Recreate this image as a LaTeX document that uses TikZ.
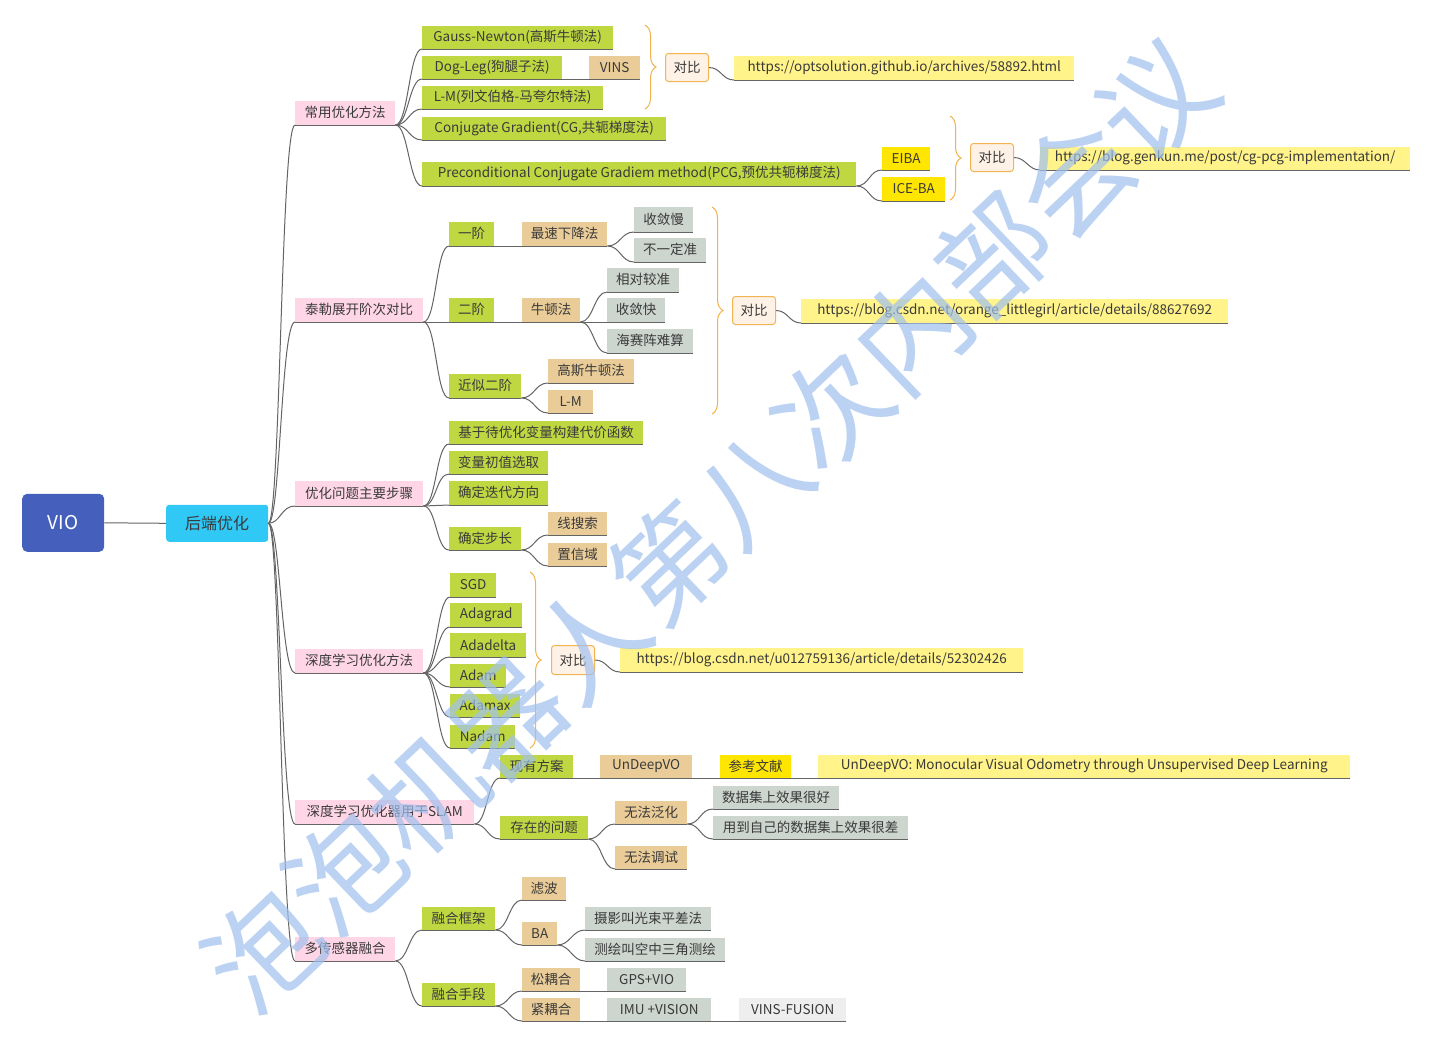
\documentclass[tikz,border=0pt]{standalone}
\usepackage{fontspec}
\setmainfont{Noto Sans CJK SC}
\usetikzlibrary{decorations.pathreplacing}
\definecolor{cgreen}{RGB}{191,216,66}
\definecolor{ctan}{RGB}{234,204,153}
\definecolor{cgray}{RGB}{205,213,207}
\definecolor{cpink}{RGB}{255,214,230}
\definecolor{cyel}{RGB}{255,230,0}
\definecolor{clyel}{RGB}{255,243,138}
\definecolor{clgray}{RGB}{238,238,238}
\definecolor{ccmpf}{RGB}{254,241,230}
\definecolor{ccmpd}{RGB}{243,181,82}
\definecolor{cbrace}{RGB}{241,179,77}
\definecolor{cline}{RGB}{100,100,100}
\definecolor{ctxt}{RGB}{58,58,58}
\definecolor{cvio}{RGB}{68,96,188}
\definecolor{chd}{RGB}{48,200,245}
\definecolor{cwm}{RGB}{160,192,238}
\newcommand\myfs{\fontsize{13.5}{16}\selectfont}
\tikzset{
 boxbase/.style={anchor=south west, inner sep=0pt, font=\myfs, text=ctxt},
 pinkbox/.style={boxbase, fill=cpink},
 greenbox/.style={boxbase, fill=cgreen},
 tanbox/.style={boxbase, fill=ctan},
 graybox/.style={boxbase, fill=cgray},
 yelbox/.style={boxbase, fill=cyel},
 lyelbox/.style={boxbase, fill=clyel},
 lgraybox/.style={boxbase, fill=clgray},
 cmpbox/.style={boxbase, fill=ccmpf, draw=ccmpd, line width=1pt, rounded corners=3pt},
 conline/.style={draw=cline, line width=1pt},
 bracestyle/.style={draw=cbrace, line width=1pt, decorate, decoration={brace, amplitude=11pt}},
}
% style, name, x1, x2, ytop, ybottom, text
\newcommand\mybox[7]{\node[#1, minimum width={#4-#3}, minimum height={#6-#5}] (#2) at (#3,#6) {#7};
  \draw[conline] (#2.south west) -- (#2.south east);}
\newcommand\mycmp[5]{\node[cmpbox, minimum width={#3-#2}, minimum height={#5-#4}] (#1) at (#2,#5) {对比};}
\newcommand\myconn[2]{\draw[conline] (#1.south east) .. controls +(13,0) and +(-13,0) .. (#2.south west);}
\newcommand\mycmpconn[2]{\draw[conline] (#1.east) .. controls +(12,0) and +(-12,0) .. (#2.south west);}
\begin{document}
\begin{tikzpicture}[x=1pt,y=-1pt]
\useasboundingbox (0,0) rectangle (1432,1044);
\fill[white] (0,0) rectangle (1432,1044);

% root and central topic
\node[anchor=south west, inner sep=0pt, minimum width=82, minimum height=58, fill=cvio, rounded corners=5pt, text=white, font=\fontsize{19}{20}\selectfont] (vio) at (22,552) {VIO};
\node[anchor=south west, inner sep=0pt, minimum width=102, minimum height=37, fill=chd, rounded corners=3pt, text=ctxt, font=\fontsize{16}{18}\selectfont] (hd) at (166,542) {后端优化};
\draw[conline] (vio.east) -- (hd.west);

% main branches
\mybox{pinkbox}{p1}{295}{395}{101}{125}{常用优化方法}
\mybox{pinkbox}{p2}{295}{423}{298}{322}{泰勒展开阶次对比}
\mybox{pinkbox}{p3}{295}{423}{481}{506}{优化问题主要步骤}
\mybox{pinkbox}{p4}{295}{423}{649}{673}{深度学习优化方法}
\mybox{pinkbox}{p5}{295}{474}{800}{824}{深度学习优化器用于SLAM}
\mybox{pinkbox}{p6}{295}{395}{937}{961}{多传感器融合}
\foreach \p in {p1,p2,p3,p4,p5,p6}
  {\draw[conline] (hd.east) .. controls +(12,0) and +(-14,0) .. (\p.south west);}

% branch 1
\mybox{greenbox}{a1}{422}{613}{26}{49}{Gauss-Newton(高斯牛顿法)}
\mybox{greenbox}{a2}{422}{562}{56}{79}{Dog-Leg(狗腿子法)}
\mybox{tanbox}{a2v}{589}{640}{56}{79}{VINS}
\mybox{greenbox}{a3}{422}{603}{86}{109}{L-M(列文伯格-马夸尔特法)}
\mybox{greenbox}{a4}{422}{666}{117}{140}{Conjugate Gradient(CG,共轭梯度法)}
\mybox{greenbox}{a5}{422}{856}{162}{186}{Preconditional Conjugate Gradiem method(PCG,预优共轭梯度法)}
\mybox{yelbox}{a5a}{882}{930}{147}{170}{EIBA}
\mybox{yelbox}{a5b}{882}{945}{177}{201}{ICE-BA}
\mycmp{db1}{665}{708}{54}{82}
\mybox{lyelbox}{u1}{734}{1074}{56}{80}{https://optsolution.github.io/archives/58892.html}
\mycmp{db2}{970}{1013}{144}{172}
\mybox{lyelbox}{u2}{1040}{1410}{147}{170}{https://blog.genkun.me/post/cg-pcg-implementation/}
\foreach \c in {a1,a2,a3,a4,a5} {\myconn{p1}{\c}}
\myconn{a2}{a2v}
\myconn{a5}{a5a}
\myconn{a5}{a5b}
\mycmpconn{db1}{u1}
\mycmpconn{db2}{u2}
\coordinate (br1t) at (645,25);
\coordinate (br1b) at (645,109);
\draw[bracestyle] (br1t) -- (br1b);
\coordinate (br2t) at (950,116);
\coordinate (br2b) at (950,200);
\draw[bracestyle] (br2t) -- (br2b);

% branch 2
\mybox{greenbox}{b1}{449}{494}{222}{246}{一阶}
\mybox{tanbox}{b1a}{522}{607}{222}{246}{最速下降法}
\mybox{graybox}{b1a1}{634}{693}{207}{232}{收敛慢}
\mybox{graybox}{b1a2}{634}{706}{238}{262}{不一定准}
\mybox{greenbox}{b2}{449}{494}{298}{322}{二阶}
\mybox{tanbox}{b2a}{522}{580}{298}{322}{牛顿法}
\mybox{graybox}{b2a1}{607}{679}{268}{292}{相对较准}
\mybox{graybox}{b2a2}{607}{665}{298}{322}{收敛快}
\mybox{graybox}{b2a3}{607}{693}{329}{353}{海赛阵难算}
\mybox{greenbox}{b3}{449}{521}{374}{398}{近似二阶}
\mybox{tanbox}{b3a}{548}{634}{359}{383}{高斯牛顿法}
\mybox{tanbox}{b3b}{548}{593}{390}{413}{L-M}
\mycmp{db3}{732}{775}{297}{325}
\mybox{lyelbox}{u3}{801}{1228}{299}{323}{https://blog.csdn.net/orange\_littlegirl/article/details/88627692}
\foreach \c in {b1,b2,b3} {\myconn{p2}{\c}}
\myconn{b1}{b1a}
\myconn{b1a}{b1a1}
\myconn{b1a}{b1a2}
\myconn{b2}{b2a}
\myconn{b2a}{b2a1}
\myconn{b2a}{b2a2}
\myconn{b2a}{b2a3}
\myconn{b3}{b3a}
\myconn{b3}{b3b}
\mycmpconn{db3}{u3}
\coordinate (br3t) at (712,207);
\coordinate (br3b) at (712,414);
\draw[bracestyle] (br3t) -- (br3b);

% branch 3
\mybox{greenbox}{c1}{449}{643}{421}{444}{基于待优化变量构建代价函数}
\mybox{greenbox}{c2}{449}{548}{451}{474}{变量初值选取}
\mybox{greenbox}{c3}{449}{548}{481}{505}{确定迭代方向}
\mybox{greenbox}{c4}{449}{521}{527}{550}{确定步长}
\mybox{tanbox}{c4a}{548}{607}{512}{535}{线搜索}
\mybox{tanbox}{c4b}{548}{607}{543}{566}{置信域}
\foreach \c in {c1,c2,c3,c4} {\myconn{p3}{\c}}
\myconn{c4}{c4a}
\myconn{c4}{c4b}

% branch 4
\mybox{greenbox}{d1}{450}{496}{573}{597}{SGD}
\mybox{greenbox}{d2}{450}{522}{603}{627}{Adagrad}
\mybox{greenbox}{d3}{450}{526}{633}{657}{Adadelta}
\mybox{greenbox}{d4}{450}{506}{664}{687}{Adam}
\mybox{greenbox}{d5}{450}{520}{694}{717}{Adamax}
\mybox{greenbox}{d6}{450}{515}{725}{748}{Nadam}
\mycmp{db4}{551}{594}{646}{675}
\mybox{lyelbox}{u4}{620}{1023}{648}{672}{https://blog.csdn.net/u012759136/article/details/52302426}
\foreach \c in {d1,d2,d3,d4,d5,d6} {\myconn{p4}{\c}}
\mycmpconn{db4}{u4}
\coordinate (br4t) at (530,572);
\coordinate (br4b) at (530,748);
\draw[bracestyle] (br4t) -- (br4b);

% branch 5
\mybox{greenbox}{e1}{500}{573}{755}{778}{现有方案}
\mybox{tanbox}{e1a}{600}{692}{755}{778}{UnDeepVO}
\mybox{yelbox}{e1b}{720}{791}{755}{778}{参考文献}
\mybox{lyelbox}{e1c}{818}{1350}{755}{778}{UnDeepVO: Monocular Visual Odometry through Unsupervised Deep Learning}
\mybox{greenbox}{e2}{500}{588}{816}{839}{存在的问题}
\mybox{tanbox}{e2a}{615}{687}{801}{824}{无法泛化}
\mybox{graybox}{e2a1}{713}{839}{786}{809}{数据集上效果很好}
\mybox{graybox}{e2a2}{713}{908}{816}{839}{用到自己的数据集上效果很差}
\mybox{tanbox}{e2b}{615}{687}{846}{869}{无法调试}
\myconn{p5}{e1}
\myconn{p5}{e2}
\myconn{e1}{e1a}
\myconn{e1a}{e1b}
\myconn{e1b}{e1c}
\myconn{e2}{e2a}
\myconn{e2}{e2b}
\myconn{e2a}{e2a1}
\myconn{e2a}{e2a2}

% branch 6
\mybox{greenbox}{f1}{422}{495}{907}{930}{融合框架}
\mybox{tanbox}{f1a}{522}{566}{877}{900}{滤波}
\mybox{tanbox}{f1b}{522}{557}{922}{945}{BA}
\mybox{graybox}{f1b1}{585}{711}{907}{930}{摄影叫光束平差法}
\mybox{graybox}{f1b2}{585}{725}{938}{961}{测绘叫空中三角测绘}
\mybox{greenbox}{f2}{422}{495}{983}{1006}{融合手段}
\mybox{tanbox}{f2a}{522}{580}{968}{991}{松耦合}
\mybox{graybox}{f2a1}{607}{686}{968}{991}{GPS+VIO}
\mybox{tanbox}{f2b}{522}{580}{998}{1021}{紧耦合}
\mybox{graybox}{f2b1}{607}{711}{998}{1021}{IMU +VISION}
\mybox{lgraybox}{f2b2}{739}{846}{998}{1021}{VINS-FUSION}
\myconn{p6}{f1}
\myconn{p6}{f2}
\myconn{f1}{f1a}
\myconn{f1}{f1b}
\myconn{f1b}{f1b1}
\myconn{f1b}{f1b2}
\myconn{f2}{f2a}
\myconn{f2}{f2b}
\myconn{f2a}{f2a1}
\myconn{f2b}{f2b1}
\myconn{f2b1}{f2b2}

% watermark
\node[rotate=43.6, text=cwm, opacity=0.7, inner sep=0pt, font=\fontsize{112}{112}\selectfont] (wm) at (710,525) {泡泡机器人第八次内部会议};
\end{tikzpicture}
\end{document}
